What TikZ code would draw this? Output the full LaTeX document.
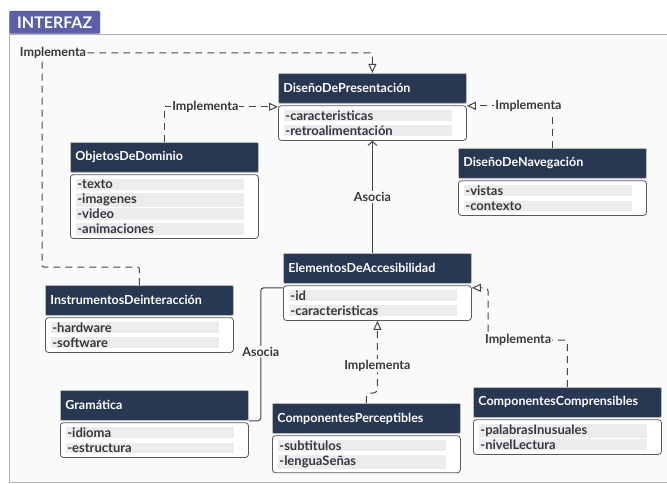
\documentclass[tikz,border=0pt]{standalone}
\usepackage{fontspec}
\setmainfont{Lato}
\usepackage{xcolor}
\usepackage{tikz}
\usetikzlibrary{arrows.meta, positioning}
\definecolor{headnavy}{RGB}{40,55,82}
\definecolor{tabpurple}{RGB}{92,95,168}
\definecolor{rowgray}{RGB}{236,236,238}
\definecolor{linegray}{RGB}{70,70,70}
\definecolor{panelbg}{RGB}{250,250,250}
\definecolor{txtgray}{RGB}{55,55,60}
\newcommand{\attrow}[1]{{\setlength{\fboxsep}{1pt}\colorbox{rowgray}{\makebox[166pt][l]{#1}}}}

\begin{document}
\begin{tikzpicture}[x=1pt, y=-1pt,
  head/.style={rectangle, draw=gray!55, line width=0.8pt, fill=headnavy, rounded corners=1pt,
               text=white, font=\fontsize{12.5}{14}\selectfont\bfseries, text width=178pt,
               inner xsep=5pt, minimum height=30pt, align=left, anchor=north west},
  body/.style={rectangle, draw=gray!70!black, line width=0.8pt, fill=white, rounded corners=3pt,
               text=txtgray, font=\fontsize{13}{15}\selectfont\bfseries, text width=176pt,
               inner xsep=6pt, inner ysep=4pt, align=left, below=1.5pt of #1},
  tab/.style={rectangle, draw=gray!40, fill=tabpurple, text=white, rounded corners=1pt,
              font=\fontsize{16}{18}\selectfont\bfseries, minimum width=91pt, minimum height=23pt,
              inner xsep=2pt},
  impl/.style={-{Triangle[open, length=9pt, width=8pt]}, dash pattern=on 7pt off 5pt,
               line width=1pt, linegray},
  asoc/.style={line width=1pt, linegray},
  lbl/.style={font=\fontsize{12.5}{14}\selectfont\bfseries, text=txtgray, fill=panelbg, inner sep=1pt},
]
  \useasboundingbox (0,0) rectangle (667,484);
  \draw[gray!60, fill=panelbg] (9,34) rectangle (680,482);
  \node[tab, anchor=south west] (tab) at (9,34) {INTERFAZ};

  \node[head] (pres) at (278,73) {DiseñoDePresentación};
  \node[body=pres] (presb) {\attrow{-caracteristicas}\\\attrow{-retroalimentación}};

  \node[head] (obj) at (70,142) {ObjetosDeDominio};
  \node[body=obj] (objb) {\attrow{-texto}\\\attrow{-imagenes}\\\attrow{-video}\\\attrow{-animaciones}};

  \node[head] (nav) at (458,148) {DiseñoDeNavegación};
  \node[body=nav] (navb) {\attrow{-vistas}\\\attrow{-contexto}};

  \node[head] (elem) at (283,253) {ElementosDeAccesibilidad};
  \node[body=elem] (elemb) {\attrow{-id}\\\attrow{-caracteristicas}};

  \node[head] (instr) at (45,285) {InstrumentosDeinteracción};
  \node[body=instr] (instrb) {\attrow{-hardware}\\\attrow{-software}};

  \node[head] (gram) at (60,390) {Gramática};
  \node[body=gram] (gramb) {\attrow{-idioma}\\\attrow{-estructura}};

  \node[head] (perc) at (272,403) {ComponentesPerceptibles};
  \node[body=perc] (percb) {\attrow{-subtitulos}\\\attrow{-lenguaSeñas}};

  \node[head] (comp) at (473,387) {ComponentesComprensibles};
  \node[body=comp] (compb) {\attrow{-palabrasInusuales}\\\attrow{-nivelLectura}};

  % Implementa
  \draw[impl] (obj.north) |- node[lbl, pos=0.68] {Implementa} ([yshift=-3pt]pres.south west);
  \draw[impl, rounded corners=2pt] (instr.north) |- (42,267) -- (42,53)
    node[lbl, xshift=11pt] {Implementa} -| (pres.north);
  \draw[impl] (nav.north) |- node[lbl, pos=0.64] {Implementa} ([yshift=-2pt]pres.south east);
  \draw[impl, rounded corners=4pt] (perc.north) -- ++(0,-10)
    -| node[lbl, pos=0.69] {Implementa} (elemb.south);
  \draw[impl, rounded corners=3pt] (comp.north) |- node[lbl, pos=0.81] {Implementa} (488,340)
    |- ([yshift=-4pt]elem.south east);

  % Asocia
  \draw[asoc, -{Straight Barb[length=4pt, width=9pt]}] (elem.north -| presb.south)
    -- node[lbl] {Asocia} (presb.south);
  \draw[asoc, rounded corners=3pt] (gram.south east) -- ++(12,0)
    |- node[lbl, pos=0.26] {Asocia} ([yshift=-4pt]elem.south west);
\end{tikzpicture}
\end{document}
